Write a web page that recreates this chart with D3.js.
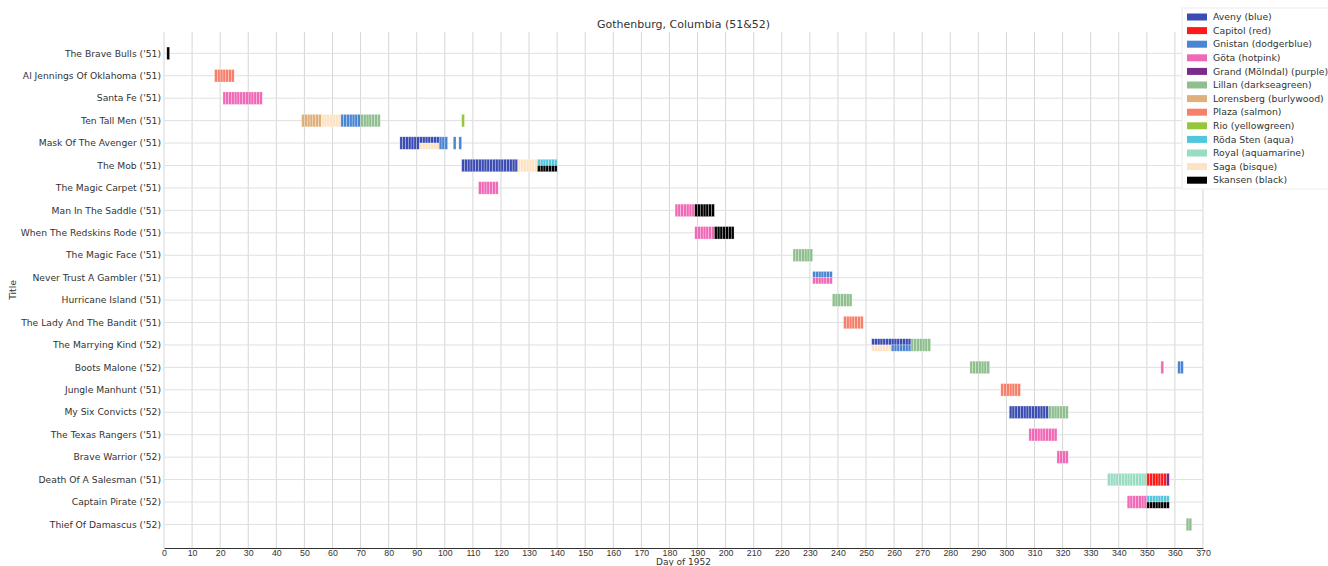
<!DOCTYPE html>
<html>
<head>
<meta charset="utf-8">
<script src="https://cdn.jsdelivr.net/npm/d3@7"></script>
<style>
  body { margin: 0; background: #fff; }
  svg { display: block; font-family: "DejaVu Sans", sans-serif; }
</style>
</head>
<body>
<script>
const titles = [
  "The Brave Bulls ('51)", "Al Jennings Of Oklahoma ('51)", "Santa Fe ('51)", "Ten Tall Men ('51)",
  "Mask Of The Avenger ('51)", "The Mob ('51)", "The Magic Carpet ('51)", "Man In The Saddle ('51)",
  "When The Redskins Rode ('51)", "The Magic Face ('51)", "Never Trust A Gambler ('51)",
  "Hurricane Island ('51)", "The Lady And The Bandit ('51)", "The Marrying Kind ('52)",
  "Boots Malone ('52)", "Jungle Manhunt ('51)", "My Six Convicts ('52)", "The Texas Rangers ('51)",
  "Brave Warrior ('52)", "Death Of A Salesman ('51)", "Captain Pirate ('52)", "Thief Of Damascus ('52)"
];

const cinemas = [
  "Aveny (blue)", "Capitol (red)", "Gnistan (dodgerblue)", "Göta (hotpink)", "Grand (Mölndal) (purple)",
  "Lillan (darkseagreen)", "Lorensberg (burlywood)", "Plaza (salmon)", "Rio (yellowgreen)",
  "Röda Sten (aqua)", "Royal (aquamarine)", "Saga (bisque)", "Skansen (black)"
];
const cinemaColors = [
  "#3b4db3", "#ff1a1a", "#4a85d2", "#f069b6", "#7b2b8c", "#8fbf8f", "#deb07c",
  "#f6806c", "#95c63c", "#52c6dc", "#98dcc2", "#fde3c4", "#000000"
];

// [title index, cinema index, first day, last day]
const screenings = [
  [0, 12, 1, 1],
  [1, 7, 18, 24],
  [2, 3, 21, 34],
  [3, 6, 49, 55], [3, 11, 56, 62], [3, 2, 63, 69], [3, 5, 70, 76], [3, 8, 106, 106],
  [4, 0, 84, 97], [4, 11, 91, 97], [4, 2, 98, 100], [4, 2, 103, 103], [4, 2, 105, 105],
  [5, 0, 106, 125], [5, 11, 126, 132], [5, 9, 133, 139], [5, 12, 133, 139],
  [6, 3, 112, 118],
  [7, 3, 182, 188], [7, 12, 189, 195],
  [8, 3, 189, 195], [8, 12, 196, 202],
  [9, 5, 224, 230],
  [10, 2, 231, 237], [10, 3, 231, 237],
  [11, 5, 238, 244],
  [12, 7, 242, 248],
  [13, 0, 252, 265], [13, 11, 252, 258], [13, 2, 259, 265], [13, 5, 266, 272],
  [14, 5, 287, 293], [14, 3, 355, 355], [14, 2, 361, 362],
  [15, 7, 298, 304],
  [16, 0, 301, 314], [16, 5, 315, 321],
  [17, 3, 308, 317],
  [18, 3, 318, 321],
  [19, 10, 336, 349], [19, 1, 350, 356], [19, 4, 357, 357],
  [20, 3, 343, 349], [20, 9, 350, 357], [20, 12, 350, 357],
  [21, 5, 364, 365]
];

const xTicks = d3.range(0, 371, 10);

const width = 1328, height = 566;
const m = {left: 164, right: 1203, top: 32, bottom: 548};
const barH = 12.5;

const x = d3.scaleLinear().domain([0, 370]).range([m.left, m.right]);
const y = d3.scaleLinear().domain([-0.95, titles.length + 0.05]).range([m.top, m.bottom]);

const svg = d3.select("body").append("svg")
    .attr("width", width)
    .attr("height", height);

// grid
svg.append("g")
  .selectAll("line")
  .data(xTicks)
  .join("line")
    .attr("x1", d => x(d)).attr("x2", d => x(d))
    .attr("y1", m.top).attr("y2", m.bottom)
    .attr("stroke", "#d6d6d6").attr("stroke-width", 1);

svg.append("g")
  .selectAll("line")
  .data(titles)
  .join("line")
    .attr("x1", m.left).attr("x2", m.right)
    .attr("y1", (d, i) => y(i)).attr("y2", (d, i) => y(i))
    .attr("stroke", "#e0e0e0").attr("stroke-width", 1);

// expand screenings into days, stack cinemas sharing a day
const cells = [];
const byDay = d3.group(
  screenings.flatMap(([t, c, a, b]) => d3.range(a, b + 1).map(day => ({t, c, day}))),
  d => d.t, d => d.day
);
for (const [t, days] of byDay) {
  for (const [day, list] of days) {
    list.sort((a, b) => a.c - b.c);
    const h = barH / list.length;
    list.forEach((d, k) => cells.push({...d, y0: y(t) - barH / 2 + k * h, h}));
  }
}

svg.append("g")
  .selectAll("rect")
  .data(cells)
  .join("rect")
    .attr("x", d => x(d.day))
    .attr("width", x(1) - x(0))
    .attr("y", d => d.y0)
    .attr("height", d => d.h)
    .attr("fill", d => cinemaColors[d.c])
    .attr("stroke", "#fff")
    .attr("stroke-opacity", 0.55)
    .attr("stroke-width", 0.5);

// x axis
const xAxis = svg.append("g")
    .attr("transform", `translate(0,${m.bottom})`)
    .call(d3.axisBottom(x).tickValues(xTicks).tickSize(0).tickPadding(1.5));
xAxis.select(".domain").attr("stroke", "#333").attr("stroke-width", 1);
xAxis.selectAll("text").attr("font-size", 8.8).attr("fill", "#333");

// y labels
svg.append("g")
  .selectAll("text")
  .data(titles)
  .join("text")
    .attr("x", m.left - 3)
    .attr("y", (d, i) => y(i))
    .attr("dy", "0.35em")
    .attr("text-anchor", "end")
    .attr("font-size", 9.2)
    .attr("fill", "#333")
    .text(d => d);

svg.append("text")
    .attr("x", (m.left + m.right) / 2)
    .attr("y", 565)
    .attr("text-anchor", "middle")
    .attr("font-size", 9)
    .attr("fill", "#333")
    .text("Day of 1952");

svg.append("text")
    .attr("transform", `translate(16,${(m.top + m.bottom) / 2}) rotate(-90)`)
    .attr("text-anchor", "middle")
    .attr("font-size", 9.2)
    .attr("fill", "#333")
    .text("Title");

svg.append("text")
    .attr("x", (m.left + m.right) / 2)
    .attr("y", 28)
    .attr("text-anchor", "middle")
    .attr("font-size", 11)
    .attr("fill", "#333")
    .text("Gothenburg, Columbia (51&52)");

// legend
const legend = svg.append("g").attr("transform", "translate(1182,8)");
legend.append("rect")
    .attr("width", 160).attr("height", 181)
    .attr("fill", "#fff").attr("stroke", "#ececec");
const item = legend.selectAll("g")
  .data(cinemas)
  .join("g")
    .attr("transform", (d, i) => `translate(5,${9 + i * 13.6})`);
item.append("rect")
    .attr("y", -3.5).attr("width", 20).attr("height", 7)
    .attr("fill", (d, i) => cinemaColors[i]);
item.append("text")
    .attr("x", 26)
    .attr("dy", "0.35em")
    .attr("font-size", 9.3)
    .attr("fill", "#333")
    .text(d => d);
</script>
</body>
</html>
